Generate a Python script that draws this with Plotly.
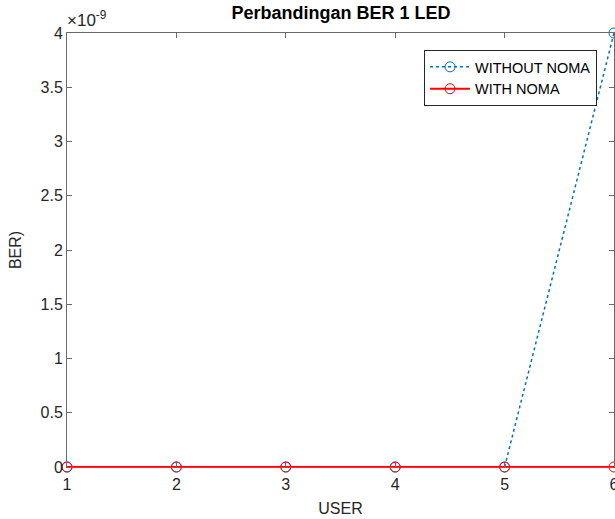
import plotly.graph_objects as go

users = [1, 2, 3, 4, 5, 6]
ber_without_noma = [0, 0, 0, 0, 0, 4e-9]
ber_with_noma = [0, 0, 0, 0, 0, 0]
ytick_vals = [0, 0.5e-9, 1e-9, 1.5e-9, 2e-9, 2.5e-9, 3e-9, 3.5e-9, 4e-9]
ytick_text = ["0", "0.5", "1", "1.5", "2", "2.5", "3", "3.5", "4"]
xtick_vals = [1, 2, 3, 4, 5, 6]

FONT = "Liberation Sans, Arial, sans-serif"
AX = "#262626"
fig = go.Figure()
fig.add_trace(go.Scatter(
    x=users, y=ber_without_noma, name="WITHOUT NOMA", mode="lines+markers",
    line=dict(color="#0072BD", width=1.5, dash="dot"),
    marker=dict(symbol="circle-open", size=10, color="#0072BD", line=dict(width=1)),
    cliponaxis=False,
))
fig.add_trace(go.Scatter(
    x=users, y=ber_with_noma, name="WITH NOMA", mode="lines+markers",
    line=dict(color="#FF0000", width=2),
    marker=dict(symbol="circle-open", size=10, color="#FF0000", line=dict(width=1)),
    cliponaxis=False,
))

axis_common = dict(
    showline=True, linecolor="#6a6a6a", linewidth=1, mirror="ticks",
    ticks="inside", ticklen=5, tickcolor="#6a6a6a", showgrid=False, zeroline=False,
    tickfont=dict(family=FONT, size=16, color=AX), automargin=False,
    ticklabeloverflow="allow",
)
fig.update_xaxes(range=[1, 6], tickvals=xtick_vals, ticklabelstandoff=3,
                 title=dict(text="USER", font=dict(family=FONT, size=16, color=AX), standoff=10),
                 **axis_common)
fig.update_yaxes(range=[0, 4e-9], tickvals=ytick_vals, ticktext=ytick_text,
                 title=dict(text="BER)", font=dict(family=FONT, size=16, color=AX), standoff=14),
                 **axis_common)

fig.update_layout(
    width=615, height=519,
    margin=dict(l=67, r=1, t=33, b=52),
    paper_bgcolor="white", plot_bgcolor="white",
    title=dict(text="<b>Perbandingan BER 1 LED</b>", x=341 / 615, xanchor="center",
               y=1 - 13 / 519, yanchor="middle",
               font=dict(family=FONT, size=18, color="black")),
    legend=dict(x=0.969, y=0.961, xanchor="right", yanchor="top",
                bgcolor="white", bordercolor=AX, borderwidth=1,
                font=dict(family=FONT, size=14.5, color="black"),
                tracegroupgap=0, itemwidth=40),
    showlegend=True,
    annotations=[dict(text="×10<sup>-9</sup>", xref="paper", yref="paper", x=0, y=1,
                      xanchor="left", yanchor="bottom", showarrow=False, xshift=-2, yshift=1,
                      font=dict(family=FONT, size=17, color=AX))],
)

fig.write_html("out.html", config={"displayModeBar": False},
               post_script="document.body.style.margin='0';document.body.style.overflow='hidden';")
